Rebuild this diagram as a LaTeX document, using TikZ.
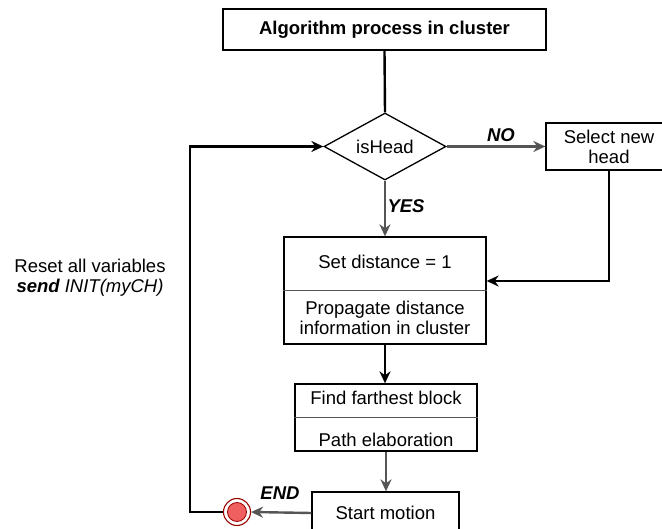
\documentclass[tikz,border=0pt]{standalone}
\usepackage{fontspec}
\setmainfont{Liberation Sans}
\usetikzlibrary{shapes.geometric,arrows.meta}
\definecolor{gline}{HTML}{555555}
\definecolor{endred}{HTML}{F06060}
\definecolor{endring}{HTML}{990000}
\begin{document}
\begin{tikzpicture}[x=1pt,y=-1pt,
  txt/.style={font=\fontsize{18.5}{20}\selectfont},
  box/.style={draw=black,line width=1.3pt,fill=white,rectangle,inner sep=0pt,txt,align=center},
  blk/.style={line width=2.4pt,draw=black,-{Stealth[length=12pt,width=11pt]}},
  gry/.style={line width=2.4pt,draw=gline,-{Stealth[length=12pt,width=11pt]}},
  lbl/.style={font=\fontsize{18.5}{20}\selectfont\bfseries\itshape}]
\useasboundingbox (0,0) rectangle (662,529);
\clip (0,0) rectangle (662,529);
\fill[white] (0,0) rectangle (662,529);
% nodes
\node[box,minimum width=323pt,minimum height=41pt,font=\fontsize{18.5}{20}\selectfont\bfseries] (top) at (384.5,29.5) {Algorithm process in cluster};
\node[draw=black,line width=1.3pt,diamond,aspect=1.82,minimum width=122pt,minimum height=67pt,inner sep=0pt,txt] (dec) at (385,146.5) {};
\node[txt] (decT) at (385,146.5) {isHead};
\node[box,minimum width=126pt,minimum height=47pt] (sel) at (609,146.5) {Select new\\head};
\node[box,minimum width=202pt,minimum height=107pt] (set) at (385,290.5) {};
\draw[gline,line width=1pt] (set.west |- 0,291) -- (set.east |- 0,291);
\node[txt] (setA) at (385,262) {Set distance = 1};
\node[txt,align=center] (setB) at (385,317.5) {Propagate distance\\information in cluster};
\node[box,minimum width=182pt,minimum height=67pt] (far) at (386,417.5) {};
\draw[gline,line width=1pt] (far.west |- 0,418) -- (far.east |- 0,418);
\node[txt] (farA) at (386,398) {Find farthest block};
\node[txt] (farB) at (386,440) {Path elaboration};
\node[box,minimum width=147pt,minimum height=42pt] (mot) at (385.5,513) {Start motion};
\node[circle,draw=endring,line width=1.1pt,fill=white,minimum size=27pt,inner sep=0pt] (endc) at (237,512) {};
\node[circle,draw=endring,line width=0.8pt,fill=endred,minimum size=19pt,inner sep=0pt] at (endc) {};
\coordinate (lb) at (190,512);
\coordinate (lt) at (190,146.5);
\coordinate (sr) at (609,281);
% connectors
\draw[line width=2.4pt] (top.south) -- (dec.north);
\draw[gry] (dec.east) -- node[lbl,above,pos=0.55] {NO} (sel.west);
\draw[gry] (dec.south) -- node[lbl,right,pos=0.45,xshift=-2pt] {YES} (set.north);
\draw[blk] (sel.south) -- (sr) -- (set.east |- sr);
\draw[blk] (set.south) -- (set.south |- far.north);
\draw[gry] (far.south) -- (far.south |- mot.north);
\draw[gry] (mot.west) -- (endc.east);
\node[lbl] at (280,493) {END};
\draw[blk] (endc.west) -- (lb) -- (lt) -- (dec.west);
\node[txt,align=center] (reset) at (90,278) {Reset all variables\\{\bfseries\itshape send} {\itshape INIT(myCH)}};
\end{tikzpicture}
\end{document}
